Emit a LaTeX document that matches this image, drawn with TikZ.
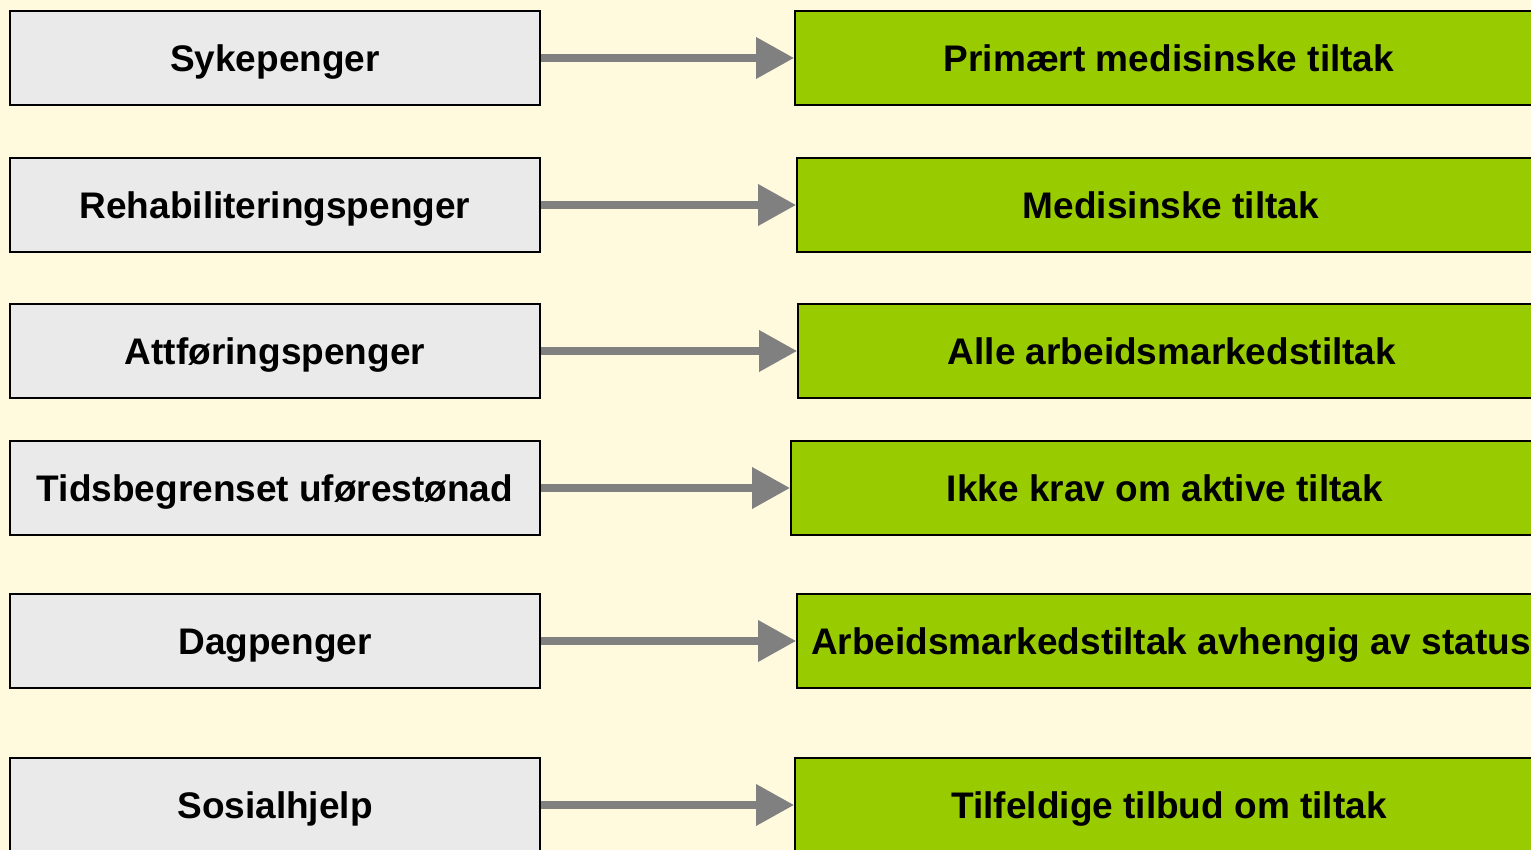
\documentclass[tikz,border=0pt]{standalone}
\usepackage{fontspec}
\setmainfont{Liberation Sans}
\usetikzlibrary{arrows.meta}
\definecolor{bakgrunn}{RGB}{255,250,221}
\definecolor{lysgraa}{RGB}{234,234,234}
\definecolor{tiltakgronn}{RGB}{153,204,0}
\definecolor{pilgraa}{RGB}{128,128,128}
\begin{document}
\begin{tikzpicture}[x=0.5pt, y=-0.5pt, font=\fontsize{18.5}{22}\selectfont\bfseries, >={Triangle[length=19pt, width=20pt]}]
	\tikzset{ytelse/.style={draw=black, line width=1pt, fill=lysgraa, minimum width=265pt, minimum height=47pt, inner sep=0pt, text height=13.3pt, text depth=0pt},
		tiltak/.style={draw=black, line width=1pt, fill=tiltakgronn, minimum width=374pt, minimum height=47pt, inner sep=0pt, text height=13.3pt, text depth=0pt, anchor=west},
		pil/.style={->, draw=pilgraa, line width=3.6pt}}
	\clip (0,0) rectangle (1531,850);
	\fill[bakgrunn] (0,0) rectangle (1531,850);
	% ytelser
	\node[ytelse] (syk) at (275,58) {Sykepenger};
	\node[ytelse] (rehab) at (275,205) {Rehabiliteringspenger};
	\node[ytelse] (attf) at (275,351) {Attføringspenger};
	\node[ytelse] (tidsb) at (275,488) {Tidsbegrenset uførestønad};
	\node[ytelse] (dag) at (275,641) {Dagpenger};
	\node[ytelse] (sos) at (275,805) {Sosialhjelp};
	% tiltak
	\node[tiltak] (prim) at (794,58) {Primært medisinske tiltak};
	\node[tiltak] (med) at (796,205) {Medisinske tiltak};
	\node[tiltak] (alle) at (797,351) {Alle arbeidsmarkedstiltak};
	\node[tiltak] (ikke) at (790,488) {Ikke krav om aktive tiltak};
	\node[tiltak] (status) at (796,641) {Arbeidsmarkedstiltak avhengig av status};
	\node[tiltak] (tilf) at (794,805) {Tilfeldige tilbud om tiltak};
	% piler
	\draw[pil] (syk.east) -- (prim.west);
	\draw[pil] (rehab.east) -- (med.west);
	\draw[pil] (attf.east) -- (alle.west);
	\draw[pil] (tidsb.east) -- (ikke.west);
	\draw[pil] (dag.east) -- (status.west);
	\draw[pil] (sos.east) -- (tilf.west);
\end{tikzpicture}
\end{document}
